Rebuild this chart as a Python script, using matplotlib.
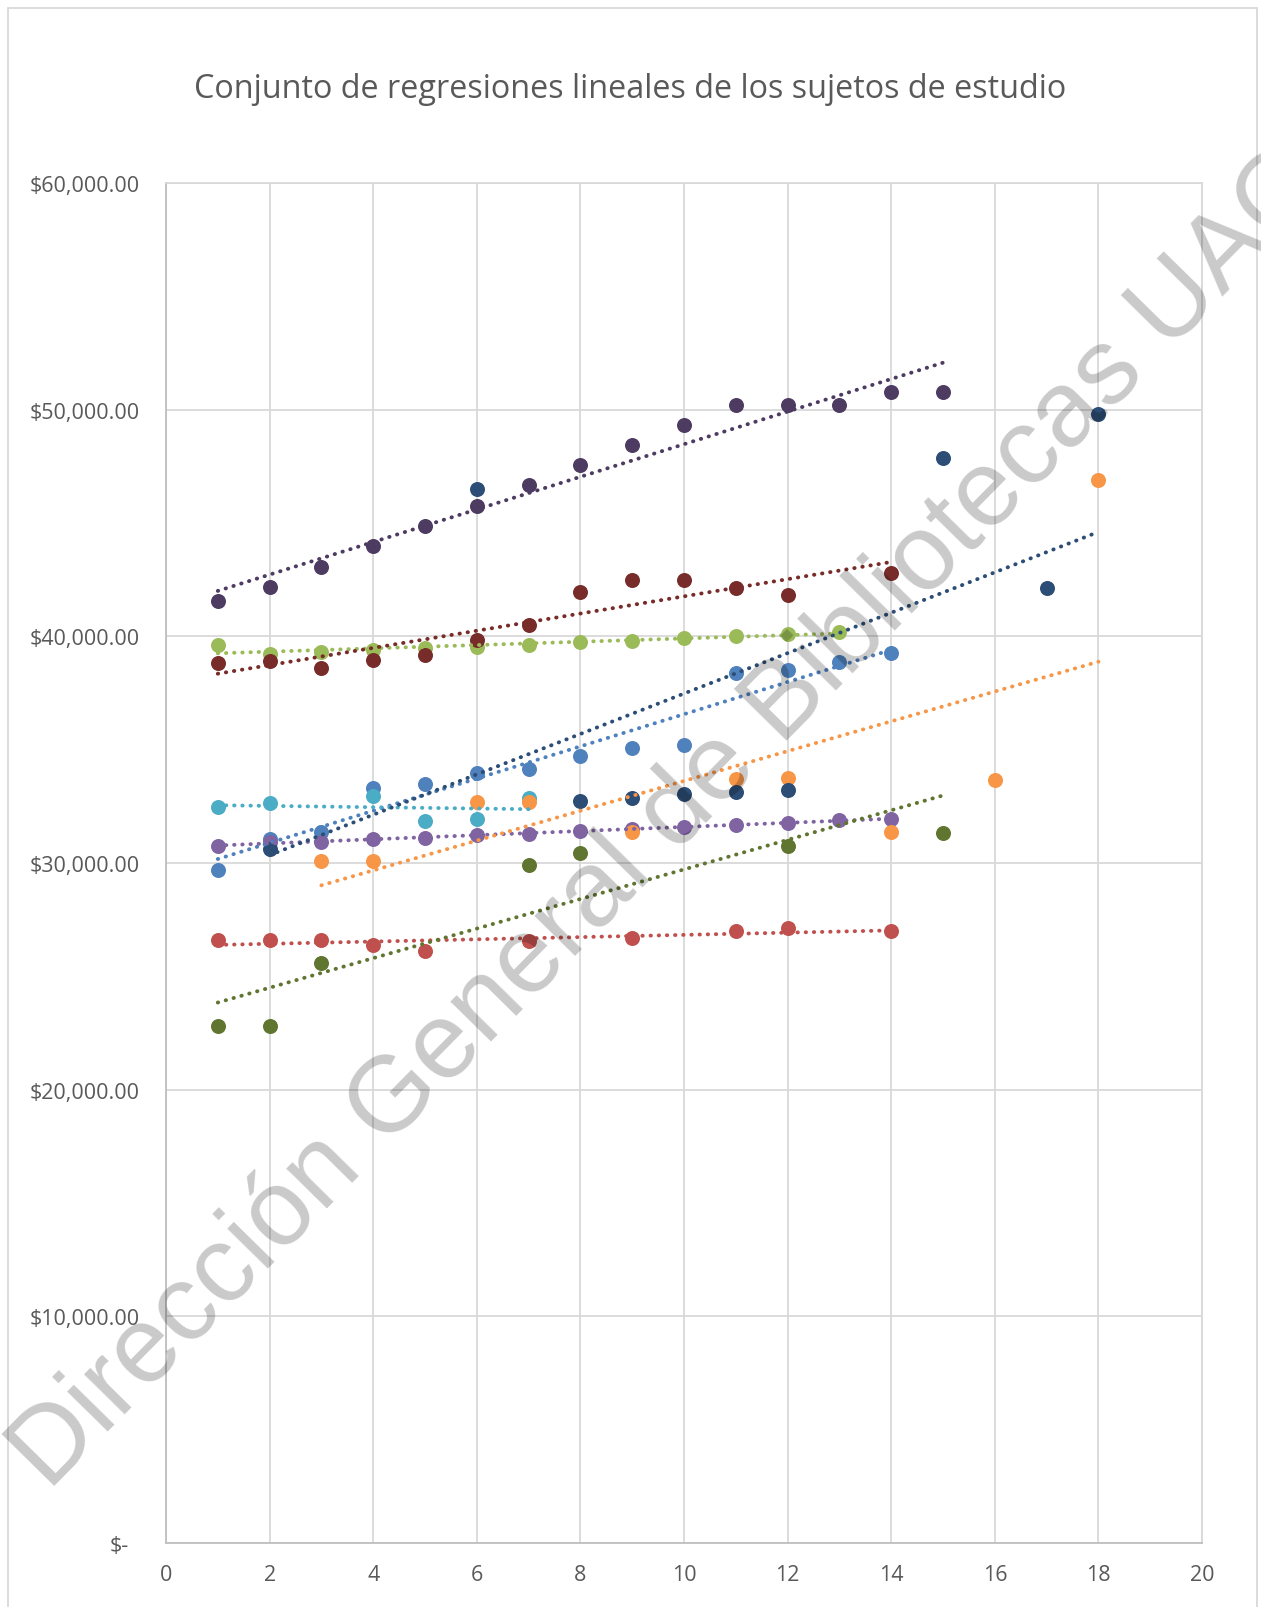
import numpy as np
import matplotlib
matplotlib.use("Agg")
import matplotlib.pyplot as plt
from matplotlib.patches import Rectangle
from matplotlib.transforms import ScaledTranslation

plt.rcParams['font.family'] = ['Open Sans', 'DejaVu Sans']

# datos (x = periodo, y = ingreso)
x_s1 = [1, 2, 3, 4, 5, 6, 7, 8, 9, 10, 11, 12, 13, 14]
y_s1 = [29690, 31050, 31350, 33310, 33500, 33970, 34160, 34720, 35070, 35200, 38370, 38510, 38880, 39280]
x_s2 = [1, 2, 3, 4, 5, 7, 9, 11, 12, 14]
y_s2 = [26610, 26610, 26610, 26380, 26110, 26550, 26690, 27010, 27140, 27010]
x_s3 = [1, 2, 3, 4, 5, 6, 7, 8, 9, 10, 11, 12, 13]
y_s3 = [39600, 39220, 39290, 39400, 39500, 39540, 39630, 39730, 39810, 39910, 40010, 40120, 40190]
x_s4 = [1, 2, 3, 4, 5, 6, 7, 8, 9, 10, 11, 12, 13, 14]
y_s4 = [30760, 30940, 30940, 31040, 31100, 31230, 31300, 31390, 31500, 31600, 31690, 31770, 31890, 31950]
x_s5 = [1, 2, 4, 5, 6, 7]
y_s5 = [32450, 32660, 32950, 31870, 31950, 32860]
x_s6 = [3, 4, 6, 7, 9, 11, 12, 14, 16, 18]
y_s6 = [30070, 30070, 32670, 32700, 31350, 33700, 33730, 31350, 33670, 46880]
x_s7 = [2, 6, 8, 9, 10, 11, 12, 15, 17, 18]
y_s7 = [30610, 46510, 32740, 32850, 33040, 33130, 33200, 47870, 42140, 49800]
x_s8 = [1, 2, 3, 4, 5, 6, 7, 8, 9, 10, 11, 12, 14]
y_s8 = [38820, 38900, 38620, 38970, 39170, 39850, 40510, 41970, 42480, 42480, 42130, 41840, 42780]
x_s9 = [1, 2, 3, 7, 8, 12, 15]
y_s9 = [22820, 22820, 25610, 29910, 30450, 30730, 31320]
x_s10 = [1, 2, 3, 4, 5, 6, 7, 8, 9, 10, 11, 12, 13, 14, 15]
y_s10 = [41570, 42190, 43070, 43985, 44870, 45750, 46660, 47550, 48440, 49320, 50220, 50200, 50200, 50770, 50770]

series = [(x_s1, y_s1), (x_s2, y_s2), (x_s3, y_s3), (x_s4, y_s4), (x_s5, y_s5),
          (x_s6, y_s6), (x_s7, y_s7), (x_s8, y_s8), (x_s9, y_s9), (x_s10, y_s10)]
colores = ['#4F81BD', '#C0504D', '#9BBB59', '#8064A2', '#4BACC6',
           '#F79646', '#2C4D75', '#772C2A', '#5F7530', '#4D3B62']

titulo = "Conjunto de regresiones lineales de los sujetos de estudio"
marca = "Dirección General de Bibliotecas UAQ"

W, H = 1261, 1608
fig = plt.figure(figsize=(W/100, H/100), dpi=100)
ax = fig.add_axes([166/W, 1-1544/H, (1202-166)/W, (1544-184)/H])

for (xs, ys), c in zip(series, colores):
    xs = np.array(xs); ys = np.array(ys)
    ax.plot(xs, ys, 'o', color=c, ms=10.8, mew=0, zorder=3)
    m, b = np.polyfit(xs, ys, 1)
    xl = np.array([xs.min(), xs.max()])
    ax.plot(xl, m*xl+b, color=c, lw=2.8, linestyle=(0, (0.1, 2.0)),
            dash_capstyle='round', zorder=4)

ax.set_xlim(0, 20)
ax.set_ylim(0, 60000)
ax.set_xticks(range(0, 21, 2))
ax.set_yticks(range(0, 60001, 10000))
ax.set_yticklabels(['$-'] + ['${:,.2f}'.format(v) for v in range(10000, 60001, 10000)])
ax.grid(True, color='#D9D9D9', lw=1.3, zorder=0)
ax.set_axisbelow(True)
for s in ax.spines.values():
    s.set_color('#D9D9D9'); s.set_linewidth(1.3)
ax.spines['left'].set_color('#BFBFBF')
ax.spines['bottom'].set_color('#BFBFBF')
ax.tick_params(length=0, labelsize=15.5, labelcolor='#595959')
ax.tick_params(axis='y', pad=19)
ax.tick_params(axis='x', pad=15)
lbl0 = ax.get_yticklabels()[0]
lbl0.set_transform(lbl0.get_transform() + ScaledTranslation(-0.11, 0, fig.dpi_scale_trans))

fig.text(0.5, 1-90/H, titulo, ha='center', va='center', fontsize=23.3, color='#595959')

fig.patches.append(Rectangle((8/W, -0.01), (1257-8)/W, 1.01-9/H, transform=fig.transFigure,
                             fill=False, edgecolor='#D9D9D9', lw=1.3))

fig.text(691/W, 1-839/H, marca, family='Liberation Sans', fontsize=77.8, color='black',
         alpha=0.21, rotation=45.5, rotation_mode='anchor', ha='center', va='baseline', zorder=10)

fig.savefig('out.png', dpi=100)
